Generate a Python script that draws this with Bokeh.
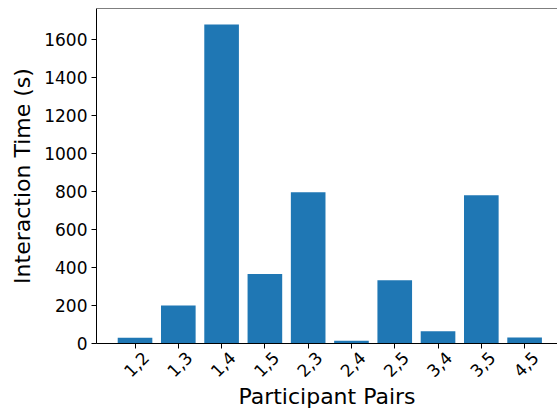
import math
from bokeh.plotting import figure
from bokeh.models import ColumnDataSource, Range1d, FixedTicker, Span, LinearAxis
from bokeh.embed import file_html
from bokeh.resources import INLINE

pairs = ["1,2", "1,3", "1,4", "1,5", "2,3", "2,4", "2,5", "3,4", "3,5", "4,5"]
times = [30, 200, 1680, 366, 796, 14, 333, 65, 780, 32]
y_ticks = [0, 200, 400, 600, 800, 1000, 1200, 1400, 1600]

idx = list(range(len(pairs)))
src = ColumnDataSource(dict(x=idx, top=times, label=pairs))

X0, X1 = -0.89, 9.76
p = figure(width=557, height=413, output_backend="svg", toolbar_location=None,
           x_range=Range1d(X0, X1), y_range=Range1d(0, 1764),
           min_border_left=96, min_border_right=0, min_border_top=8, min_border_bottom=70)

p.vbar(x="x", top="top", bottom=0, width=0.8, source=src,
       fill_color="#1f77b4", line_color=None)

p.grid.visible = False
p.outline_line_color = None
p.add_layout(Span(location=1764, dimension="width", line_color="#000000", line_width=1))
p.background_fill_color = "white"
p.border_fill_color = "white"

font = "DejaVu Sans"

# main x axis: line and ticks only
xa = p.xaxis[0]
xa.ticker = FixedTicker(ticks=idx)
xa.major_label_overrides = {i: "" for i in idx}
xa.major_label_text_font_size = "0px"
xa.major_label_standoff = 0
xa.axis_line_color = "#000000"
xa.major_tick_line_color = "#000000"
xa.major_tick_in = 0
xa.major_tick_out = 5
xa.minor_tick_line_color = None
xa.axis_label = None

# label axis: shifted so rotated labels are centred under the ticks
shift = 0.25
p.extra_x_ranges = {"lab": Range1d(X0 - shift, X1 - shift)}
la = LinearAxis(x_range_name="lab", ticker=FixedTicker(ticks=idx))
la.major_label_overrides = {i: s for i, s in enumerate(pairs)}
la.major_label_orientation = math.pi / 4
la.major_label_text_font = font
la.major_label_text_font_size = "17px"
la.major_label_text_color = "#000000"
la.major_label_standoff = 6
la.major_tick_in = 0
la.major_tick_out = 0
la.axis_line_color = None
la.major_tick_line_color = None
la.minor_tick_line_color = None
la.axis_label = "Participant Pairs"
la.axis_label_text_font = font
la.axis_label_text_font_size = "22px"
la.axis_label_text_font_style = "normal"
la.axis_label_text_color = "#000000"
la.axis_label_standoff = -2
p.add_layout(la, "below")

ya = p.yaxis[0]
ya.ticker = FixedTicker(ticks=y_ticks)
ya.axis_label = "Interaction Time (s)"
ya.major_label_text_font = font
ya.major_label_text_font_size = "17px"
ya.major_label_text_color = "#000000"
ya.axis_label_text_font = font
ya.axis_label_text_font_size = "22px"
ya.axis_label_text_font_style = "normal"
ya.axis_label_text_color = "#000000"
ya.axis_line_color = "#000000"
ya.major_tick_line_color = "#000000"
ya.major_tick_in = 0
ya.major_tick_out = 5
ya.minor_tick_line_color = None
ya.major_label_standoff = 4
ya.axis_label_standoff = 6

open("out.html", "w").write(file_html(p, INLINE))
